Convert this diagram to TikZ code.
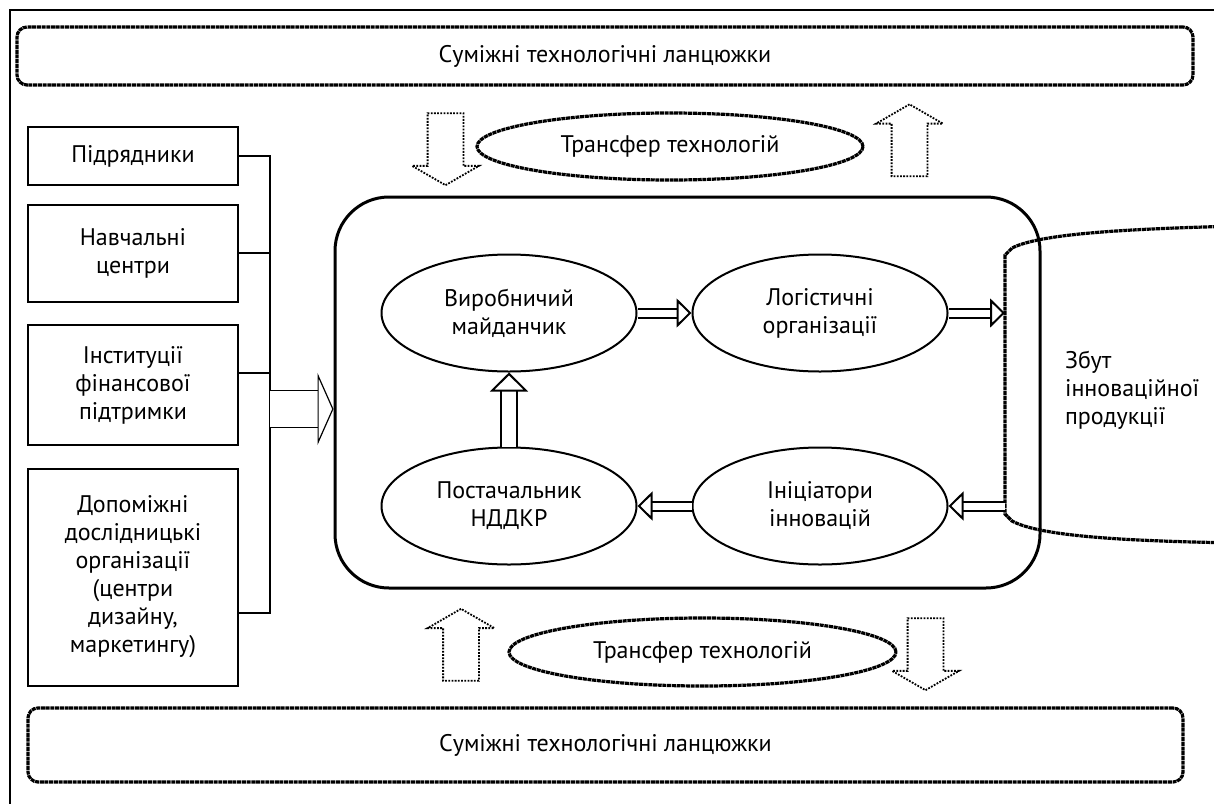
\documentclass[tikz,border=0pt]{standalone}
\usepackage{fontspec}
\setmainfont{PT Sans}
\usetikzlibrary{shapes.geometric, shapes.arrows, arrows.meta, positioning, calc}
\tikzset{
        txt/.style={font=\fontsize{12}{14}\selectfont, align=center},
        orgbox/.style={rectangle, draw, line width=1pt, txt, minimum width=105pt, inner sep=2pt},
        actor/.style={ellipse, draw, line width=1pt, txt, minimum width=127.5pt, minimum height=58.5pt, inner sep=0pt},
        stipple/.style={line width=1.6pt, dash pattern=on 2pt off 0.35pt},
        band/.style={rectangle, draw, stipple, rounded corners=5pt, txt},
        transfer/.style={ellipse, draw, stipple, txt, inner sep=0pt},
        tarrow/.style={single arrow, draw, dash pattern=on 0.9pt off 0.7pt, line width=0.9pt, minimum height=36pt, single arrow head extend=7.75pt, single arrow tip angle=120, inner sep=0pt, text width=17pt, text height=17pt, text depth=0pt},
        hollow/.style={double=white, double distance=3.5pt, line width=1pt, -{Triangle[length=7.5pt, width=14.5pt, fill=white]}},
        bus/.style={line width=0.6pt},
    }
\begin{document}
\begin{tikzpicture}[x=0.5pt, y=-0.5pt]
        \useasboundingbox (0,0) rectangle (1214,803);
        % outer frame
        \draw[line width=1pt] (10,10) rectangle (1240,830);

        % adjacent chains
        \node[band, minimum width=588pt, minimum height=29pt] (chaintop) at (605,56) {Суміжні технологічні ланцюжки};
        \node[band, minimum width=577.5pt, minimum height=37pt] (chainbot) at (605.5,745) {Суміжні технологічні ланцюжки};

        % technology transfer
        \node[transfer, minimum width=193pt, minimum height=33.5pt] (transtop) at (670,146.5) {Трансфер технологій};
        \node[transfer, minimum width=193.5pt, minimum height=34pt] (transbot) at (702.5,652) {Трансфер технологій};
        \node[tarrow, shape border rotate=270] (tdownl) at (445.5,144) {};
        \node[tarrow, shape border rotate=90] (tupr) at (909.5,145.5) {};
        \node[tarrow, shape border rotate=90] (tupl) at (461,650) {};
        \node[tarrow, shape border rotate=270] (tdownr) at (925.5,649) {};

        % participants
        \node[orgbox, minimum height=29pt] (pidr) at (133,156) {Підрядники};
        \node[orgbox, minimum height=48.5pt] (navch) at (133,253) {Навчальні\\центри};
        \node[orgbox, minimum height=60pt] (inst) at (133,385) {Інституції\\фінансової\\підтримки};
        \node[orgbox, minimum height=108.5pt] (dop) at (133,577) {Допоміжні\\дослідницькі\\організації\\(центри\\дизайну,\\маркетингу)};

        % cluster core
        \node[rectangle, draw, line width=1.5pt, rounded corners=27pt, minimum width=352.5pt, minimum height=195.5pt] (core) at (687.5,392.5) {};
        \node[actor] (vyr) at (509,313) {Виробничий\\майданчик};
        \node[actor] (log) at (820,313) {Логістичні\\організації};
        \node[actor] (post) at (509,506) {Постачальник\\НДДКР};
        \node[actor] (ini) at (820,506) {Ініціатори\\інновацій};

        % sales
        \draw[stipple] (1240,226) .. controls (1120,229) and (1040,234) .. (1012,248)
            -- (1005,255) -- (1005,514) -- (1012,521) .. controls (1040,536) and (1120,541) .. (1240,543);
        \node[txt, align=left, anchor=west] (zbut) at (1058,390) {Збут\\інноваційної\\продукції};
        \coordinate (zin) at (1005,313);
        \coordinate (zout) at (1005,506);

        % bus of participants
        \coordinate (bustop) at (270,156);
        \coordinate (busbot) at (270,613);
        \coordinate (busout) at (270,409);
        \draw[bus] (pidr.east) -- (bustop) -- (busbot) -- (dop.east |- busbot);
        \draw[bus] (navch.east) -- (navch.east -| bustop);
        \draw[bus] ([yshift=6pt]inst.east) -- ([yshift=6pt]inst.east -| bustop);
        \draw[double=white, double distance=18pt, line width=0.6pt, -{Triangle[length=8pt, width=36pt, fill=white, line width=0.6pt]}] (busout) -- (busout -| core.west);

        % flows
        \draw[hollow] (vyr) -- (log);
        \draw[hollow] (log) -- (zin);
        \draw[hollow] (zout) -- (ini);
        \draw[hollow] (ini) -- (post);
        \draw[double=white, double distance=7pt, line width=1pt, -{Triangle[length=9.5pt, width=19pt, fill=white]}] (post) -- (vyr);
    \end{tikzpicture}
\end{document}
